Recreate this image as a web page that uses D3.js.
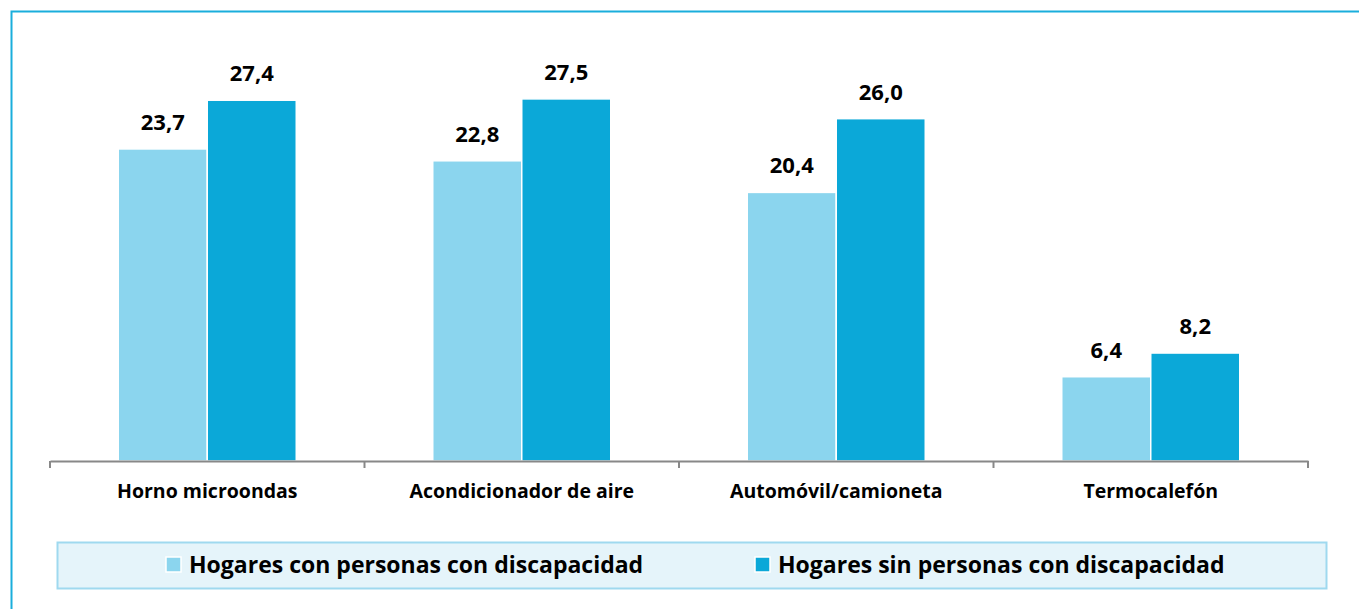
<!DOCTYPE html>
<html>
<head>
<meta charset="utf-8">
<script src="https://cdn.jsdelivr.net/npm/d3@7"></script>
<style>
  body { margin: 0; background: #fff; }
  svg { display: block; }
</style>
</head>
<body>
<svg width="1359" height="609"></svg>
<script>
'use strict';
// ....... data .......
const categories = ['Horno microondas', 'Acondicionador de aire', 'Automóvil/camioneta', 'Termocalefón'];
const seriesNames = ['Hogares con personas con discapacidad', 'Hogares sin personas con discapacidad'];
const conDiscapacidad = [23.7, 22.8, 20.4, 6.4];
const sinDiscapacidad = [27.4, 27.5, 26.0, 8.2];
const colors = ['#8bd5ee', '#0ba8d8'];

const svg = d3.select('svg');
const font = '"Open Sans", "Noto Sans", sans-serif';
const fmt = v => d3.format('.1f')(v).replace('.', ',');

// outer frame
svg.append('rect')
  .attr('x', 11.5).attr('y', 11.5)
  .attr('width', 1359).attr('height', 609)
  .attr('fill', 'none')
  .attr('stroke', '#1aaedc')
  .attr('stroke-width', 2);

const x = d3.scaleBand().domain(categories).range([50, 1308]);
const y = d3.scaleLinear().domain([0, 30]).range([461, 66]);
const inner = d3.scaleBand().domain([0, 1]).range([0, 178]);

const rows = categories.map((c, i) => ({ c, vals: [conDiscapacidad[i], sinDiscapacidad[i]] }));

const groups = svg.append('g').selectAll('g')
  .data(rows).join('g')
  .attr('transform', d => `translate(${x(d.c) + x.bandwidth() / 2 - 89},0)`);

groups.selectAll('rect')
  .data(d => d.vals.map((v, k) => ({ v, k })))
  .join('rect')
  .attr('x', d => inner(d.k))
  .attr('y', d => y(d.v))
  .attr('width', inner.bandwidth())
  .attr('height', d => y(0) - y(d.v))
  .attr('fill', d => colors[d.k])
  .attr('stroke', '#fff')
  .attr('stroke-width', 1.5);

groups.selectAll('text')
  .data(d => d.vals.map((v, k) => ({ v, k })))
  .join('text')
  .attr('x', d => inner(d.k) + inner.bandwidth() / 2)
  .attr('y', d => y(d.v) - 19)
  .attr('text-anchor', 'middle')
  .attr('font-family', font)
  .attr('font-weight', 'bold')
  .attr('font-size', 22)
  .attr('fill', '#000')
  .text(d => fmt(d.v));

// x axis
const axis = svg.append('g')
  .attr('transform', `translate(0,${y(0)})`)
  .call(d3.axisBottom(x).tickSize(0).tickPadding(23));
axis.select('.domain').attr('stroke', '#888').attr('stroke-width', 2);
axis.selectAll('text')
  .attr('font-family', font)
  .attr('font-weight', 'bold')
  .attr('font-size', 19.5)
  .attr('fill', '#000');
const edges = categories.map(c => x(c)).concat([x.range()[1]]);
axis.selectAll('.edge')
  .data(edges).join('line')
  .attr('x1', d => d).attr('x2', d => d)
  .attr('y1', 0).attr('y2', 7)
  .attr('stroke', '#888').attr('stroke-width', 2);

// legend
const legend = svg.append('g');
legend.append('rect')
  .attr('x', 57.5).attr('y', 542.5)
  .attr('width', 1269).attr('height', 46)
  .attr('fill', '#e5f4fa')
  .attr('stroke', '#9fd9ef')
  .attr('stroke-width', 2);
const legendX = [166, 755];
const items = legend.selectAll('g.item')
  .data(seriesNames).join('g')
  .attr('class', 'item')
  .attr('transform', (d, i) => `translate(${legendX[i]},565)`);
items.append('rect')
  .attr('x', 0).attr('y', -8)
  .attr('width', 15).attr('height', 15)
  .attr('fill', (d, i) => colors[i])
  .attr('stroke', '#fff').attr('stroke-width', 1.5);
items.append('text')
  .attr('x', 23).attr('y', 8)
  .attr('font-family', font)
  .attr('font-weight', 'bold')
  .attr('font-size', 23)
  .attr('fill', '#000')
  .text(d => d);
</script>
</body>
</html>
